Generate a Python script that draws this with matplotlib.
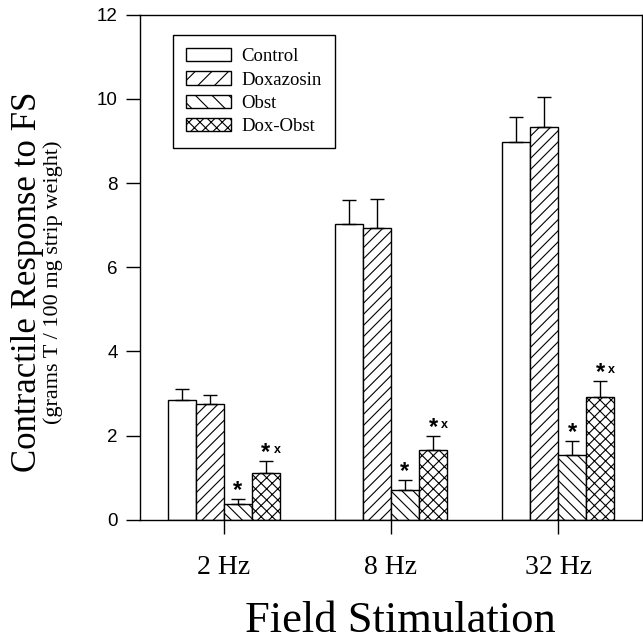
import matplotlib
matplotlib.use("Agg")
import matplotlib.pyplot as plt
import numpy as np
from matplotlib.patches import Patch

categories = ["2 Hz", "8 Hz", "32 Hz"]
series = ["Control", "Doxazosin", "Obst", "Dox-Obst"]
control = [2.85, 7.03, 8.97]
doxazosin = [2.75, 6.93, 9.33]
obst = [0.37, 0.72, 1.55]
doxobst = [1.12, 1.67, 2.92]
control_err = [0.27, 0.57, 0.61]
doxazosin_err = [0.22, 0.69, 0.72]
obst_err = [0.13, 0.23, 0.33]
doxobst_err = [0.28, 0.33, 0.38]
star_series = ["Obst", "Dox-Obst"]
yticks = [0, 2, 4, 6, 8, 10, 12]

values = [control, doxazosin, obst, doxobst]
errs = [control_err, doxazosin_err, obst_err, doxobst_err]
hatches = ["", "///", "\\\\\\", "xxx"]

serif = ["Liberation Serif", "DejaVu Serif"]
sans = ["Liberation Sans", "DejaVu Sans"]

plt.rcParams['hatch.linewidth'] = 0.8
fig = plt.figure(figsize=(6.43, 6.41), dpi=100)
ax = fig.add_axes([0.218, 0.189, 0.78, 0.788])

x = np.arange(len(categories))
w = 0.168
offsets = [-1.5, -0.5, 0.5, 1.5]
for i, (name, vals, er, h) in enumerate(zip(series, values, errs, hatches)):
    xs = x + offsets[i] * w
    ax.bar(xs, vals, width=w, color="white", edgecolor="black", linewidth=1.0,
           hatch=h, zorder=2)
    ax.errorbar(xs, vals, yerr=[np.zeros(len(vals)), er], fmt="none",
                ecolor="black", elinewidth=1.0, capsize=5, capthick=1.0, zorder=3)
    if name in star_series:
        for xi, v, e in zip(xs, vals, er):
            top = v + e
            ax.text(xi, top + 0.2, "*", ha="center", va="center",
                    fontsize=17, fontweight="bold", family=sans)
            if name == "Dox-Obst":
                ax.text(xi + 0.045, top + 0.26, "x", ha="left", va="center",
                        fontsize=9, fontweight="bold", family=sans)

ax.set_xlim(-0.5, 2.5)
ax.set_ylim(0, 12)
ax.set_yticks(yticks)
ax.set_yticklabels([str(t) for t in yticks], family=sans, fontsize=13.5)
ax.set_xticks(x)
ax.set_xticklabels(categories, family=serif, fontsize=20)
ax.tick_params(axis="y", direction="out", length=10, width=1, pad=6)
ax.tick_params(axis="x", direction="out", length=10, width=1, pad=15)
for s in ax.spines.values():
    s.set_linewidth(1.0)

fig.text(0.622, 0.0, "Field Stimulation", family=serif, fontsize=32,
         ha="center", va="bottom")
fig.text(0.042, 0.56, "Contractile Response to FS", family=serif, fontsize=25,
         rotation=90, ha="center", va="center")
fig.text(0.083, 0.56, "(grams T / 100 mg strip weight)", family=serif, fontsize=16,
         rotation=90, ha="center", va="center")

handles = [Patch(facecolor="white", edgecolor="black", hatch=h, linewidth=1.0)
           for h in ["", "//", "\\\\", "xxx"]]
leg = ax.legend(handles, series, loc="upper left", bbox_to_anchor=(0.066, 0.96),
                borderaxespad=0, prop={"family": serif, "size": 13.5},
                handlelength=2.4, handleheight=0.7, labelspacing=0.33,
                fancybox=False, edgecolor="black", framealpha=1,
                borderpad=0.7, handletextpad=0.55)
leg.get_frame().set_linewidth(1.0)

fig.savefig("out.png", dpi=100)
